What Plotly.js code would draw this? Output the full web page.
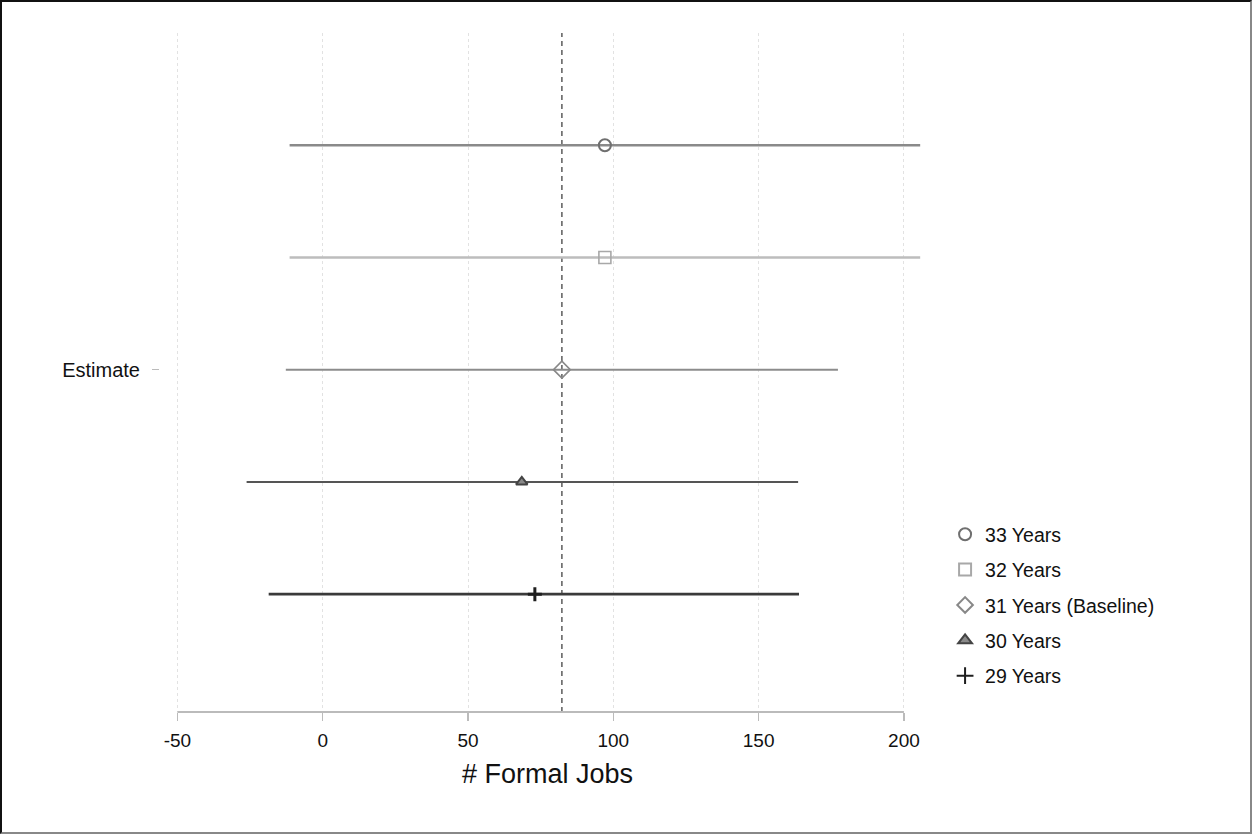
<!DOCTYPE html>
<html>
<head>
<meta charset="utf-8">
<script src="https://cdn.plot.ly/plotly-3.0.1.min.js"></script>
<style>
  html, body { margin: 0; padding: 0; background: #fff; }
  #frame { width: 1252px; height: 834px; box-sizing: border-box; border: 2px solid #111; border-right-color: #888; border-bottom-color: #888; }
  #chart { width: 1248px; height: 830px; }
</style>
</head>
<body>
<div id="frame"><div id="chart"></div></div>
<script>
// Coefficient estimates for formal jobs under different age cut-offs
const seriesNames = ['33 Years', '32 Years', '31 Years (Baseline)', '30 Years', '29 Years'];
const estimates   = [97.1, 97.1, 82.3, 68.5, 73.0];
const ciLower     = [-11.4, -11.4, -12.7, -26.2, -18.6];
const ciUpper     = [205.6, 205.6, 177.3, 163.6, 163.9];
const rowLabel    = 'Estimate';
const baselineValue = 82.3;
const xTicks      = [-50, 0, 50, 100, 150, 200];

const symbols   = ['circle-open', 'square-open', 'diamond-open', 'triangle-up', 'cross-thin'];
const mkColors  = ['#6f6f6f', '#a8a8a8', '#888888', '#8a8a8a', '#1e1e1e'];
const mkEdge    = ['#6f6f6f', '#a8a8a8', '#888888', '#444444', '#1e1e1e'];
const barColors = ['#8a8a8a', '#bdbdbd', '#8c8c8c', '#555555', '#3a3a3a'];
const barWidths = [2.6, 2.6, 2.0, 2.0, 2.6];
const mkSizes   = [12, 12, 13, 10, 10];
const mkLines   = [2, 1.6, 1.6, 2, 3];

const n = seriesNames.length;
const traces = seriesNames.map((name, i) => {
  const pos = (n - 1) / 2 - i;
  return {
    type: 'scatter',
    mode: 'markers',
    name: name,
    legendgroup: 'g' + i,
    x: [estimates[i]],
    y: [pos],
    error_x: {
      type: 'data', symmetric: false,
      array: [ciUpper[i] - estimates[i]],
      arrayminus: [estimates[i] - ciLower[i]],
      width: 0, thickness: barWidths[i], color: barColors[i]
    },
    marker: {
      symbol: symbols[i], size: mkSizes[i], color: mkColors[i],
      line: { color: mkEdge[i], width: mkLines[i] }
    },
    hoverinfo: 'x+name'
  };
});

const layout = {
  width: 1248, height: 830,
  margin: { l: 158, r: 315, t: 31, b: 120 },
  paper_bgcolor: '#fff', plot_bgcolor: '#fff',
  font: { family: 'Liberation Sans, Arial, sans-serif', color: '#111', size: 19 },
  showlegend: true,
  legend: {
    x: 1.013, xanchor: 'left', y: 0.29, yanchor: 'top',
    font: { size: 19.5, color: '#111' },
    tracegroupgap: 7, itemsizing: 'constant', itemwidth: 30,
    bgcolor: 'rgba(0,0,0,0)'
  },
  xaxis: {
    range: [-56, 210.7],
    tickmode: 'array', tickvals: xTicks, ticktext: xTicks.map(String),
    ticks: 'outside', ticklen: 8, tickwidth: 1.5, tickcolor: '#bbbbbb',
    ticklabelstandoff: 3,
    showline: false, zeroline: false,
    showgrid: true, gridcolor: '#e2e2e2', griddash: 'dot', gridwidth: 1,
    tickfont: { size: 19 },
    title: { text: '# Formal Jobs', font: { size: 27 }, standoff: 14 },
    fixedrange: true
  },
  yaxis: {
    range: [-3.05, 3.0],
    tickmode: 'array', tickvals: [0], ticktext: [rowLabel],
    ticks: 'outside', ticklen: 7, tickwidth: 1, tickcolor: '#bbbbbb',
    ticklabelstandoff: 8,
    showline: false, zeroline: false, showgrid: false,
    tickfont: { size: 20 },
    fixedrange: true
  },
  shapes: [
    // x axis line spanning the labelled range
    { type: 'line', xref: 'x', yref: 'paper', x0: xTicks[0], x1: xTicks[xTicks.length - 1], y0: 0, y1: 0,
      line: { color: '#bbbbbb', width: 2 } },
    // reference line at the baseline estimate
    { type: 'line', xref: 'x', yref: 'paper', x0: baselineValue, x1: baselineValue, y0: 0, y1: 1,
      line: { color: '#666666', width: 1.6, dash: '5px,4px' }, layer: 'below' }
  ]
};

Plotly.newPlot('chart', traces, layout, { displayModeBar: false, staticPlot: true });
</script>
</body>
</html>
